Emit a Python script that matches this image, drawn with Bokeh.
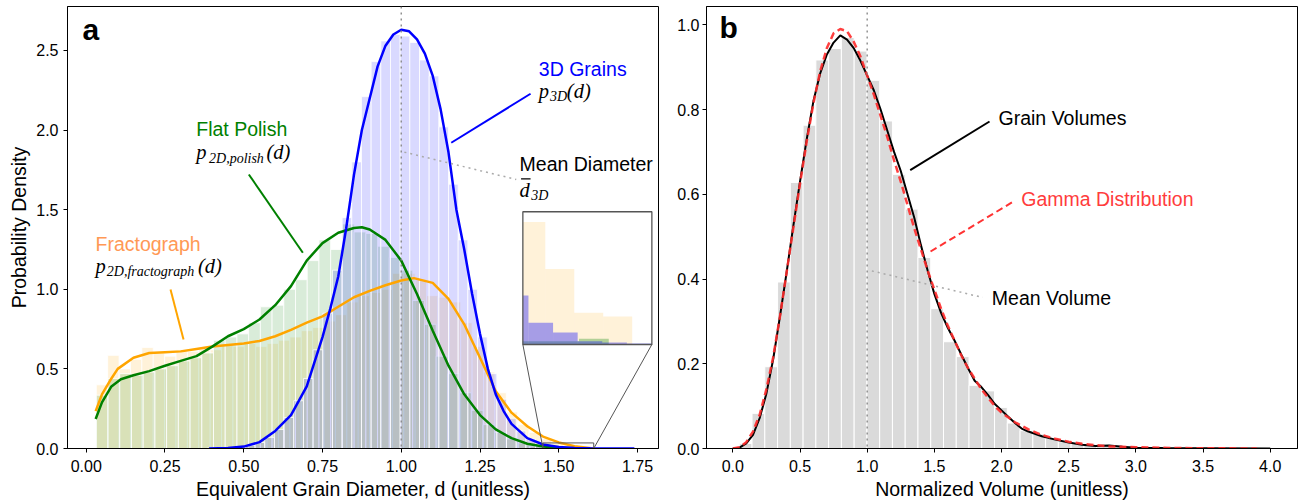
import numpy as np
from bokeh.plotting import figure
from bokeh.layouts import row
from bokeh.models import Span, Label, Range1d, FixedTicker, NumeralTickFormatter
from bokeh.embed import file_html
from bokeh.resources import INLINE

# ---------------- Panel a data ----------------
frac_start, frac_width = 0.032, 0.03615
frac_hist = [0.40, 0.585, 0.50, 0.56, 0.635, 0.60, 0.58, 0.62, 0.61, 0.63,
             0.62, 0.65, 0.64, 0.66, 0.64, 0.66, 0.68, 0.70, 0.74, 0.76,
             0.80, 0.84, 0.92, 0.96, 0.98, 1.00, 1.10, 1.10, 1.06, 0.96,
             0.95, 0.92, 0.79, 0.64, 0.48, 0.35, 0.23, 0.15, 0.10, 0.060,
             0.037, 0.0156, 0.0137]
polish_start, polish_width = 0.032, 0.0372
polish_hist = [0.335, 0.44, 0.47, 0.46, 0.48, 0.50, 0.52, 0.55, 0.57, 0.60,
               0.68, 0.70, 0.72, 0.79, 0.89, 0.90, 1.00, 1.06, 1.18, 1.31,
               1.25, 1.41, 1.36, 1.35, 1.27, 1.20, 1.12, 0.93, 0.78, 0.58,
               0.47, 0.35, 0.24, 0.15, 0.10, 0.06, 0.035, 0.015, 0.0016, 0.0016,
               0.0028]
grain_start, grain_width = 0.3825, 0.0307
grain_hist = [0.002, 0.003, 0.005, 0.010, 0.020, 0.038, 0.070, 0.120, 0.195, 0.300,
              0.440, 0.620, 0.850, 1.120, 1.450, 1.800, 2.210, 2.430, 2.560, 2.600,
              2.590, 2.550, 2.440, 2.340, 2.020, 1.660, 1.310, 1.000, 0.700, 0.470,
              0.310, 0.190, 0.110, 0.058, 0.024, 0.0107, 0.0059, 0.0016, 0.0010, 0.0005,
              0.0003, 0.0003, 0.0002, 0.0002]

frac_kde_x = [0.03, 0.05, 0.08, 0.1, 0.15, 0.2, 0.25, 0.3, 0.35, 0.4, 0.45, 0.5, 0.55, 0.6, 0.65,
              0.7, 0.75, 0.8, 0.85, 0.9, 0.95, 1.0, 1.04, 1.1, 1.15, 1.2, 1.25, 1.3, 1.35, 1.4,
              1.45, 1.5, 1.55, 1.61]
frac_kde_y = [0.235, 0.34, 0.44, 0.50, 0.57, 0.60, 0.605, 0.61, 0.625, 0.64, 0.65, 0.66, 0.675, 0.705, 0.745,
              0.79, 0.83, 0.89, 0.95, 0.99, 1.025, 1.055, 1.07, 1.04, 0.94, 0.78, 0.57, 0.36, 0.225, 0.14,
              0.075, 0.038, 0.014, 0.0]
polish_kde_x = [0.03, 0.05, 0.08, 0.11, 0.15, 0.2, 0.25, 0.3, 0.35, 0.4, 0.45, 0.5, 0.55, 0.6, 0.65,
                0.7, 0.75, 0.8, 0.85, 0.875, 0.9, 0.95, 1.0, 1.05, 1.1, 1.15, 1.2, 1.25, 1.3, 1.35,
                1.4, 1.45, 1.5, 1.55, 1.58]
polish_kde_y = [0.185, 0.29, 0.39, 0.435, 0.46, 0.486, 0.52, 0.55, 0.58, 0.64, 0.705, 0.75, 0.81, 0.90, 1.02,
                1.18, 1.29, 1.355, 1.385, 1.39, 1.375, 1.31, 1.18, 0.97, 0.74, 0.52, 0.34, 0.21, 0.12, 0.065,
                0.03, 0.012, 0.005, 0.002, 0.001]
grain_kde_x = [0.39, 0.45, 0.5, 0.55, 0.6, 0.65, 0.7, 0.75, 0.775, 0.8, 0.825, 0.85, 0.875, 0.9, 0.925,
               0.95, 0.975, 1.0, 1.025, 1.05, 1.075, 1.1, 1.125, 1.15, 1.175, 1.2, 1.225, 1.25, 1.275,
               1.3, 1.325, 1.35, 1.4, 1.45, 1.5, 1.55, 1.6, 1.65, 1.74]
grain_kde_y = [0.0, 0.003, 0.012, 0.04, 0.11, 0.21, 0.39, 0.70, 0.88, 1.08, 1.38, 1.72, 2.00, 2.20, 2.40,
               2.53, 2.60, 2.63, 2.62, 2.57, 2.48, 2.34, 2.13, 1.86, 1.50, 1.25, 0.97, 0.72, 0.50,
               0.34, 0.235, 0.155, 0.065, 0.025, 0.009, 0.003, 0.001, 0.0005, 0.0]
mean_diameter = 1.0

# ---------------- Panel b data ----------------
vol_start, vol_width = 0.048, 0.095
vol_hist = [0.012, 0.083, 0.193, 0.393, 0.628, 0.763, 0.917, 0.944, 0.970, 0.938,
            0.869, 0.773, 0.647, 0.565, 0.451, 0.330, 0.252, 0.217, 0.149, 0.136,
            0.097, 0.060, 0.042, 0.034, 0.024, 0.016, 0.011, 0.008, 0.007, 0.008,
            0.004, 0.003, 0.002, 0.0015, 0.001, 0.001, 0.0008, 0.0005, 0.0005, 0.0003,
            0.0003, 0.0002]
vol_kde_x = [0.0, 0.05, 0.1, 0.15, 0.2, 0.25, 0.3, 0.35, 0.4, 0.45, 0.5, 0.55, 0.6, 0.65, 0.7, 0.75,
             0.8, 0.85, 0.9, 0.95, 1.0, 1.05, 1.1, 1.15, 1.2, 1.25, 1.3, 1.35, 1.4, 1.45, 1.5, 1.55,
             1.6, 1.65, 1.7, 1.75, 1.8, 1.85, 1.9, 1.95, 2.0, 2.05, 2.1, 2.15, 2.2, 2.3, 2.4, 2.5,
             2.6, 2.7, 2.8, 2.9, 3.0, 3.2, 3.5, 4.0]
vol_kde_y = [0.0, 0.002, 0.012, 0.032, 0.072, 0.13, 0.21, 0.31, 0.415, 0.525, 0.63, 0.73, 0.82, 0.885, 0.93, 0.958,
             0.975, 0.965, 0.945, 0.915, 0.88, 0.845, 0.80, 0.75, 0.70, 0.655, 0.60, 0.545, 0.48, 0.42, 0.365, 0.32,
             0.285, 0.255, 0.222, 0.19, 0.16, 0.145, 0.126, 0.105, 0.09, 0.075, 0.06, 0.047, 0.04, 0.029, 0.021, 0.014,
             0.009, 0.006, 0.007, 0.004, 0.002, 0.001, 0.0005, 0.0]
gamma_x = [0.0, 0.05, 0.1, 0.15, 0.2, 0.25, 0.3, 0.35, 0.4, 0.45, 0.5, 0.55, 0.6, 0.65, 0.7, 0.75,
           0.8, 0.85, 0.9, 0.95, 1.0, 1.05, 1.1, 1.15, 1.2, 1.25, 1.3, 1.35, 1.4, 1.45, 1.5, 1.55,
           1.6, 1.65, 1.7, 1.75, 1.8, 1.85, 1.9, 1.95, 2.0, 2.1, 2.2, 2.3, 2.4, 2.5, 2.6, 2.7,
           2.8, 2.9, 3.0, 3.2, 3.5, 3.9]
gamma_y = [0.0, 0.003, 0.015, 0.04, 0.08, 0.14, 0.215, 0.31, 0.415, 0.52, 0.625, 0.725, 0.815, 0.89, 0.945, 0.98,
           0.99, 0.985, 0.96, 0.925, 0.88, 0.835, 0.785, 0.735, 0.68, 0.63, 0.575, 0.52, 0.47, 0.42, 0.375, 0.33,
           0.29, 0.255, 0.22, 0.19, 0.165, 0.14, 0.12, 0.10, 0.085, 0.062, 0.045, 0.032, 0.023, 0.016, 0.011, 0.008,
           0.005, 0.004, 0.003, 0.0015, 0.0005, 0.0001]
mean_volume = 1.0

# ---------------- styling helpers ----------------
SANS = "Liberation Sans"
SERIF = "Liberation Serif"
ORANGE, GREEN, BLUE = "orange", "green", "blue"


def a_x(px):
    return (px - 86.7) / 315.0


def a_y(py):
    return (449.0 - py) / 159.2


def b_x(px):
    return (px - 733.3) / 134.35


def b_y(py):
    return (449.3 - py) / 423.7


def style(p, xticks, xfmt, yticks, yfmt, xlabel, ylabel, ystand):
    p.xgrid.visible = False
    p.ygrid.visible = False
    p.outline_line_color = "black"
    p.outline_line_width = 1
    p.outline_line_alpha = 1
    for ax, ticks, fmt, lab in ((p.xaxis[0], xticks, xfmt, xlabel), (p.yaxis[0], yticks, yfmt, ylabel)):
        ax.ticker = FixedTicker(ticks=ticks)
        ax.formatter = NumeralTickFormatter(format=fmt)
        ax.axis_line_color = "black"
        ax.major_tick_line_color = "black"
        ax.major_tick_out = 4
        ax.major_tick_in = 0
        ax.minor_tick_line_color = None
        ax.major_label_text_font = SANS
        ax.major_label_text_font_size = "16px"
        ax.major_label_text_color = "black"
        ax.axis_label = lab
        ax.axis_label_text_font = SANS
        ax.axis_label_text_font_size = "19.5px"
        ax.axis_label_text_font_style = "normal"
        ax.axis_label_text_color = "black"
        ax.axis_label_standoff = 3
    p.xaxis[0].major_label_standoff = 7
    p.yaxis[0].major_label_standoff = ystand


def label(p, fx, fy, px, py, text, size=19.5, color="black", font=SANS, style_="normal"):
    # px/py: left edge and baseline of the text in page pixels, measured on the reference
    p.add_layout(Label(x=fx(px), y=fy(py - 0.3 * size), text=text, text_font=font,
                       text_font_size=f"{size}px", text_color=color, text_font_style=style_,
                       text_baseline="alphabetic", text_align="left"))


def hist_edges(start, width, heights):
    lefts = start + width * np.arange(len(heights))
    return lefts, lefts + width, np.asarray(heights, dtype=float)


# ---------------- Panel a ----------------
pa = figure(width=670, height=503, x_range=Range1d(-0.0594, 1.8166), y_range=Range1d(0, 2.776),
            output_backend="svg", toolbar_location=None, min_border_left=67, min_border_right=12,
            min_border_top=6, min_border_bottom=55)
style(pa, [0, 0.25, 0.5, 0.75, 1.0, 1.25, 1.5, 1.75], "0.00", [0, 0.5, 1.0, 1.5, 2.0, 2.5], "0.0",
      "Equivalent Grain Diameter, d (unitless)", "Probability Density", 5)

hists = [(frac_start, frac_width, frac_hist, ORANGE),
         (polish_start, polish_width, polish_hist, GREEN),
         (grain_start, grain_width, grain_hist, BLUE)]
for st, w, h, c in hists:
    l, r, t = hist_edges(st, w, h)
    pa.quad(left=l, right=r, bottom=0, top=t, fill_color=c, fill_alpha=0.15,
            line_color="white", line_width=1, line_alpha=0.8)

pa.add_layout(Span(location=mean_diameter, dimension="height", line_color="#8a8a8a",
                   line_dash="dotted", line_width=1.4))

pa.line(frac_kde_x, frac_kde_y, line_color=ORANGE, line_width=2.5)
pa.line(polish_kde_x, polish_kde_y, line_color=GREEN, line_width=2.5)
pa.line(grain_kde_x, grain_kde_y, line_color=BLUE, line_width=2.5)

# leader lines
pa.segment(x0=[a_x(451.7)], y0=[a_y(143.3)], x1=[a_x(531)], y1=[a_y(94.3)], line_color=BLUE, line_width=2)
pa.segment(x0=[a_x(249.3)], y0=[a_y(175)], x1=[a_x(303.3)], y1=[a_y(253.3)], line_color=GREEN, line_width=2)
pa.segment(x0=[a_x(171)], y0=[a_y(290)], x1=[a_x(184)], y1=[a_y(340)], line_color=ORANGE, line_width=2)
pa.segment(x0=[mean_diameter + 0.01], y0=[a_y(152.7)], x1=[a_x(516.7)], y1=[a_y(180)],
           line_color="#aaaaaa", line_dash="dotted", line_width=1.5)

# inset
ix0, ix1, iymax = 1.45, 1.611, 0.065
bx0, bx1, by0, by1 = a_x(523.3), a_x(652.3), a_y(345), a_y(212.3)
pa.quad(left=[bx0], right=[bx1], bottom=[by0], top=[by1], fill_color="white", line_color=None)
inset_alpha = {ORANGE: 0.15, GREEN: 0.3, BLUE: 0.35}
for st, w, h, c in hists:
    l, r, t = hist_edges(st, w, h)
    lc, rc = np.clip(l, ix0, ix1), np.clip(r, ix0, ix1)
    keep = rc > lc
    X0 = bx0 + (lc[keep] - ix0) / (ix1 - ix0) * (bx1 - bx0)
    X1 = bx0 + (rc[keep] - ix0) / (ix1 - ix0) * (bx1 - bx0)
    T = by0 + np.minimum(t[keep], iymax) / iymax * (by1 - by0)
    pa.quad(left=X0, right=X1, bottom=by0, top=T, fill_color=c, fill_alpha=inset_alpha[c], line_color=None)
pa.quad(left=[bx0], right=[bx1], bottom=[by0], top=[by1], fill_color=None, line_color="#555555", line_width=1.3)
pa.segment(x0=[bx0, bx1], y0=[by0, by0], x1=[ix0, ix1], y1=[0, 0], line_color="#555555", line_width=1)
pa.quad(left=[ix0], right=[ix1], bottom=[0], top=[0.035], fill_color=None, line_color="#555555", line_width=1)

# texts
label(pa, a_x, a_y, 83, 39.3, "a", size=30, style_="bold")
label(pa, a_x, a_y, 539.3, 75.3, "3D Grains", color=BLUE)
label(pa, a_x, a_y, 539.3, 97.3, "p", size=20.5, font=SERIF, style_="italic")
label(pa, a_x, a_y, 550.5, 101.5, "3D", size=14, font=SERIF, style_="italic")
label(pa, a_x, a_y, 567.3, 97.3, "(d)", size=20.5, font=SERIF, style_="italic")
label(pa, a_x, a_y, 520, 170, "Mean Diameter")
label(pa, a_x, a_y, 520, 196.7, "d", size=20.5, font=SERIF, style_="italic")
label(pa, a_x, a_y, 531.7, 200.5, "3D", size=14, font=SERIF, style_="italic")
pa.segment(x0=[a_x(521.5)], y0=[a_y(179.5)], x1=[a_x(531)], y1=[a_y(179.5)], line_color="black", line_width=1.2)
label(pa, a_x, a_y, 196.7, 135, "Flat Polish", color=GREEN)
label(pa, a_x, a_y, 196.7, 159, "p", size=20.5, font=SERIF, style_="italic")
label(pa, a_x, a_y, 209.5, 163, "2D,polish", size=14, font=SERIF, style_="italic")
label(pa, a_x, a_y, 267, 159, "(d)", size=20.5, font=SERIF, style_="italic")
label(pa, a_x, a_y, 96, 250.7, "Fractograph", color="#ff9955")
label(pa, a_x, a_y, 96, 272.7, "p", size=20.5, font=SERIF, style_="italic")
label(pa, a_x, a_y, 107.3, 276.7, "2D,fractograph", size=14, font=SERIF, style_="italic")
label(pa, a_x, a_y, 198.5, 272.7, "(d)", size=20.5, font=SERIF, style_="italic")

# ---------------- Panel b ----------------
pb = figure(width=629, height=503, x_range=Range1d(-0.196, 4.203), y_range=Range1d(0, 1.0432),
            output_backend="svg", toolbar_location=None, min_border_left=36, min_border_right=2,
            min_border_top=6, min_border_bottom=55)
style(pb, [0, 0.5, 1.0, 1.5, 2.0, 2.5, 3.0, 3.5, 4.0], "0.0", [0, 0.2, 0.4, 0.6, 0.8, 1.0], "0.0",
      "Normalized Volume (unitless)", "", 3)

l, r, t = hist_edges(vol_start, vol_width, vol_hist)
pb.quad(left=l, right=r, bottom=0, top=t, fill_color="#dadada", line_color="white", line_width=1)
pb.add_layout(Span(location=mean_volume, dimension="height", line_color="#8a8a8a",
                   line_dash="dotted", line_width=1.4))
pb.line(vol_kde_x, vol_kde_y, line_color="black", line_width=2)
pb.line(gamma_x, gamma_y, line_color="#ff2b2b", line_alpha=0.9, line_width=2.5, line_dash="7 4")

pb.segment(x0=[b_x(910.7)], y0=[b_y(171)], x1=[b_x(990)], y1=[b_y(122.3)], line_color="black", line_width=2)
pb.segment(x0=[b_x(931)], y0=[b_y(252.3)], x1=[b_x(1013.3)], y1=[b_y(202.7)], line_color="#ff3333",
           line_width=2, line_dash="7 4")
pb.segment(x0=[mean_volume + 0.035], y0=[b_y(271.7)], x1=[b_x(983.3)], y1=[b_y(298.3)],
           line_color="#aaaaaa", line_dash="dotted", line_width=1.5)

label(pb, b_x, b_y, 720, 37.3, "b", size=30, style_="bold")
label(pb, b_x, b_y, 999, 125, "Grain Volumes")
label(pb, b_x, b_y, 1021.7, 206, "Gamma Distribution", color="#ff3c3c")
label(pb, b_x, b_y, 992.3, 305, "Mean Volume")

layout = row(pa, pb)
open("out.html", "w").write(file_html(layout, INLINE))
